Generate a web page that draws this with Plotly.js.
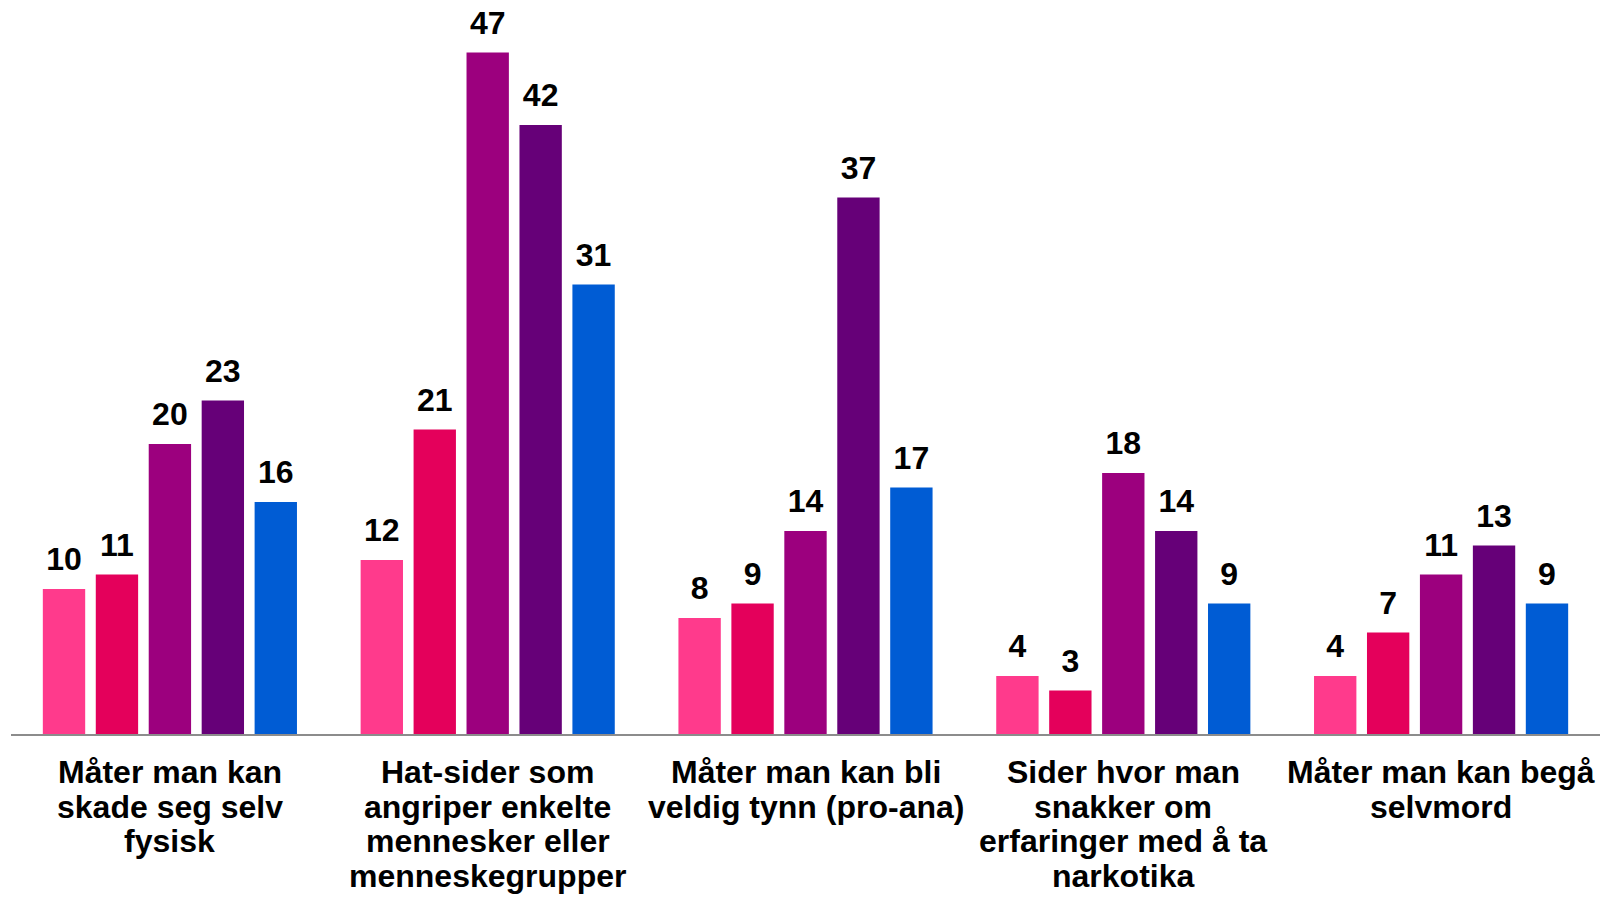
<!DOCTYPE html>
<html>
<head>
<meta charset="utf-8">
<script src="https://cdn.plot.ly/plotly-3.0.1.min.js"></script>
<style>html,body{margin:0;padding:0;background:#fff;}#chart{width:1608px;height:899px;}</style>
</head>
<body>
<div id="chart"></div>
<script>
const categories = [
  'Måter man kan<br>skade seg selv<br>fysisk',
  'Hat-sider som<br>angriper enkelte<br>mennesker eller<br>menneskegrupper',
  'Måter man kan bli<br>veldig tynn (pro-ana)',
  'Sider hvor man<br>snakker om<br>erfaringer med å ta<br>narkotika',
  'Måter man kan begå<br>selvmord'
];
const seriesNames = ['Serie 1', 'Serie 2', 'Serie 3', 'Serie 4', 'Serie 5'];
const serie1 = [10, 12, 8, 4, 4];
const serie2 = [11, 21, 9, 3, 7];
const serie3 = [20, 47, 14, 18, 11];
const serie4 = [23, 42, 37, 14, 13];
const serie5 = [16, 31, 17, 9, 9];
const seriesValues = [serie1, serie2, serie3, serie4, serie5];
const colors = ['#FF3A8C', '#E4005B', '#9C007E', '#660078', '#005CD4'];

const FONT = 'Liberation Sans, Arial, Helvetica, sans-serif';

const barTraces = seriesValues.map((vals, i) => ({
  type: 'bar',
  name: seriesNames[i],
  x: categories,
  y: vals,
  offsetgroup: 'g' + i,
  marker: {color: colors[i]},
  showlegend: false,
  hoverinfo: 'x+y'
}));

const labelTraces = seriesValues.map((vals, i) => ({
  type: 'scatter',
  mode: 'markers+text',
  name: seriesNames[i],
  x: categories,
  y: vals,
  offsetgroup: 'g' + i,
  marker: {size: 16, opacity: 0, color: colors[i]},
  text: vals.map(String),
  textposition: 'top center',
  cliponaxis: false,
  textfont: {family: FONT, size: 32, color: '#000', weight: 700},
  showlegend: false,
  hoverinfo: 'skip'
}));

const annotations = [];
categories.forEach(cat => {
  cat.split('<br>').forEach((line, j) => {
    annotations.push({
      xref: 'x', yref: 'paper', x: cat, y: 0,
      yanchor: 'top', xanchor: 'center',
      yshift: -18 - j * 34.5,
      text: line, showarrow: false,
      font: {family: FONT, size: 32, color: '#000', weight: 700}
    });
  });
});

const layout = {
  width: 1608, height: 899,
  margin: {l: 11, r: 8, t: 9, b: 165, pad: 0},
  paper_bgcolor: '#fff', plot_bgcolor: '#fff',
  barmode: 'group',
  bargap: 0.167,
  bargroupgap: 0.2,
  scattermode: 'group',
  scattergap: 0.167,
  xaxis: {
    type: 'category',
    showticklabels: false,
    showline: true, linecolor: '#8C8C8C', linewidth: 2,
    ticks: '', showgrid: false, zeroline: false
  },
  yaxis: {
    range: [0, 50], visible: false, showgrid: false, zeroline: false
  },
  annotations: annotations,
  font: {family: FONT}
};

Plotly.newPlot('chart', barTraces.concat(labelTraces), layout, {displayModeBar: false, staticPlot: true});
</script>
</body>
</html>
